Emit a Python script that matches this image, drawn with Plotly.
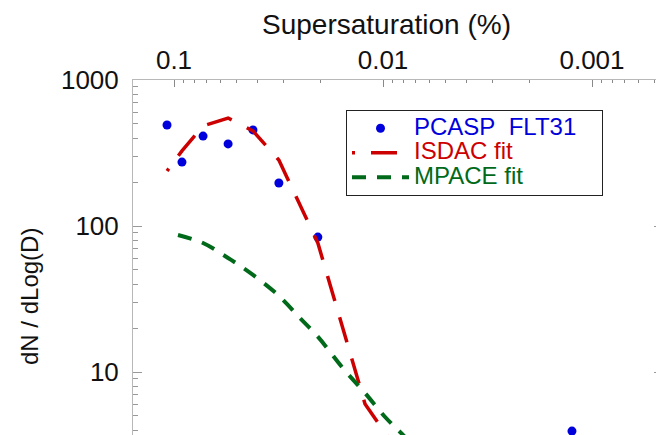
import plotly.graph_objects as go

# PCASP FLT31 measurements
pcasp_ss = [0.1080, 0.0916, 0.0726, 0.0551, 0.0419, 0.0315, 0.0205, 0.00688, 0.001247]
pcasp_n = [492, 274, 413, 365, 455, 197, 84, 3.55, 3.94]

# ISDAC fit
isdac_ss = [0.1080, 0.0916, 0.0726, 0.0551, 0.0419, 0.0315, 0.0205, 0.01219, 0.00688]
isdac_n = [238, 327, 484, 549, 448, 283, 76.5, 6.04, 1.85]

# MPACE fit
mpace_ss = [0.0957, 0.07264, 0.05514, 0.04188, 0.03145, 0.02494, 0.02046, 0.01553,
            0.01219, 0.00967, 0.00785, 0.00630]
mpace_n = [86.8, 76.5, 60.4, 46.2, 33.2, 23.4, 17.4, 10.6, 7.18, 4.84, 3.59, 2.58]

x_ticks = [0.1, 0.01, 0.001]
x_ticktext = ["0.1", "0.01", "0.001"]
y_ticks = [10, 100, 1000]
y_ticktext = ["10", "100", "1000"]

FONT = "Liberation Sans, Arial, sans-serif"

# page offset of the figure inside the browser body (default 8px body margin)
OFF = 8
WIN_W, WIN_H = 664, 435
W, H = WIN_W - OFF, WIN_H - OFF
# absolute page positions of the plot frame
PL, PT, PR, PB = 133, 80, 663, 435
ML, MT = PL - OFF, PT - OFF
MR, MB = (OFF + W) - PR, (OFF + H) - PB
pw = PR - PL
ph = PB - PT


def px(xabs):
    return (xabs - PL) / pw


def py(yabs):
    return (PB - yabs) / ph


red_dash = "3px,16px," + ",".join(["26px,17px"] * 14)
NB = "\u00a0"

fig = go.Figure()
fig.add_trace(go.Scatter(
    x=pcasp_ss, y=pcasp_n, mode="markers",
    name="<span style='color:#0000dd;font-size:24px'>PCASP" + NB * 2 + "FLT31" + NB * 3 + "</span>",
    marker=dict(color="#0000dd", size=9, symbol="circle"),
    cliponaxis=False,
))
fig.add_trace(go.Scatter(
    x=isdac_ss, y=isdac_n, mode="lines",
    name="<span style='color:#cc0000;font-size:24px'>ISDAC fit</span>",
    line=dict(color="#cc0000", width=3.5, dash=red_dash),
))
fig.add_trace(go.Scatter(
    x=mpace_ss, y=mpace_n, mode="lines",
    name="<span style='color:#006a1a;font-size:24px'>MPACE fit</span>",
    line=dict(color="#006a1a", width=4, dash="14px,11px", shape="spline"),
))

axis_color = "#b8b8b8"
fig.update_xaxes(
    type="log", side="top", range=[-0.8038, -3.3397], autorange=False,
    tickvals=x_ticks, ticktext=x_ticktext,
    ticks="inside", ticklen=7, tickcolor="#888", tickwidth=1,
    minor=dict(ticks="inside", ticklen=3, tickcolor="#888", dtick="D1"),
    showline=True, linecolor=axis_color, linewidth=1, mirror=False,
    showgrid=False, zeroline=False, automargin=False,
    tickfont=dict(family=FONT, size=26, color="#111"),
)
fig.update_yaxes(
    type="log", range=[0.5685, 3.0], autorange=False,
    tickvals=y_ticks, ticktext=y_ticktext,
    ticks="inside", ticklen=9, tickcolor="#999", tickwidth=1,
    minor=dict(ticks="inside", ticklen=5, tickcolor="#999", dtick="D1"),
    showline=True, linecolor=axis_color, linewidth=1, mirror="ticks",
    showgrid=False, zeroline=False, automargin=False,
    tickfont=dict(family=FONT, size=26, color="#111"),
    ticklabelstandoff=8,
)

fig.add_annotation(
    text="Supersaturation (%)", xref="paper", yref="paper",
    x=px(386), y=py(25), showarrow=False,
    xanchor="center", yanchor="middle",
    font=dict(family=FONT, size=28, color="#111"),
)
fig.add_annotation(
    text="dN / dLog(D)", xref="paper", yref="paper",
    x=px(29), y=py(297), showarrow=False, textangle=-90,
    xanchor="center", yanchor="middle",
    font=dict(family=FONT, size=24, color="#111"),
)

fig.update_layout(
    width=W, height=H,
    margin=dict(l=ML, r=MR, t=MT, b=MB, pad=0),
    paper_bgcolor="white", plot_bgcolor="white",
    showlegend=True,
    legend=dict(
        x=px(346), y=py(110), xanchor="left", yanchor="top",
        bordercolor="#222", borderwidth=1, bgcolor="white",
        font=dict(family=FONT, size=16.5),
        itemwidth=57,
    ),
)

fig.write_html("out.html")
